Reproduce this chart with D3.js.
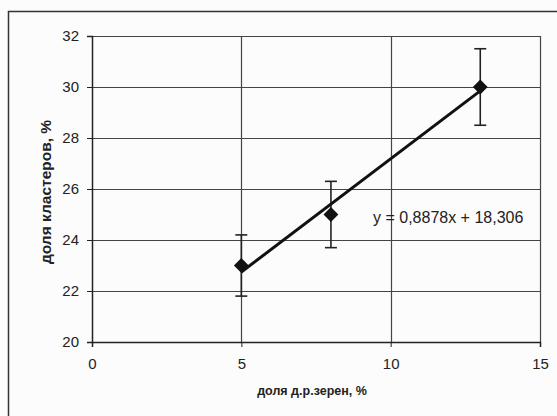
<!DOCTYPE html>
<html>
<head>
<meta charset="utf-8">
<script src="https://cdn.jsdelivr.net/npm/d3@7"></script>
<style>
  body { margin: 0; background: #fff; }
  text { font-family: "Liberation Sans", Arial, sans-serif; fill: #222; }
</style>
</head>
<body>
<script>
var xValues = [5, 8, 13];
var yValues = [23, 25, 30];
var yErrors = [1.2, 1.3, 1.5];
var xTicks = [0, 5, 10, 15];
var yTicks = [20, 22, 24, 26, 28, 30, 32];
var slope = 0.8878;
var intercept = 18.306;
var equationLabel = "y = 0,8878x + 18,306";
var xTitle = "доля д.р.зерен, %";
var yTitle = "доля кластеров, %";

var W = 557, H = 416;
var plotLeft = 92, plotRight = 540, plotTop = 36, plotBottom = 342;

var svg = d3.select("body").append("svg")
    .attr("width", W)
    .attr("height", H);

svg.append("rect")
  .attr("width", W).attr("height", H)
  .attr("fill", "#fcfcfc");

// outer chart frame (cut off at right/bottom)
svg.append("path")
  .attr("d", "M8.5," + (H + 2) + "V11.5H" + (W + 2))
  .attr("fill", "none")
  .attr("stroke", "#333")
  .attr("stroke-width", 1.5);

var x = d3.scaleLinear().domain([0, 15]).range([plotLeft, plotRight]);
var y = d3.scaleLinear().domain([20, 32]).range([plotBottom, plotTop]);

var data = xValues.map(function(d, i) {
  return {x: d, y: yValues[i], e: yErrors[i]};
});

// gridlines
svg.append("g").selectAll("line")
  .data(yTicks.slice(1))
  .enter().append("line")
  .attr("x1", plotLeft).attr("x2", plotRight)
  .attr("y1", function(d) { return Math.round(y(d)) + 0.5; })
  .attr("y2", function(d) { return Math.round(y(d)) + 0.5; })
  .attr("stroke", "#444")
  .attr("stroke-width", 1.2);

svg.append("g").selectAll("line")
  .data(xTicks.slice(1))
  .enter().append("line")
  .attr("y1", plotTop).attr("y2", plotBottom)
  .attr("x1", function(d) { return Math.round(x(d)) + 0.5; })
  .attr("x2", function(d) { return Math.round(x(d)) + 0.5; })
  .attr("stroke", "#444")
  .attr("stroke-width", 1.2);

// axes
var yAxis = svg.append("g")
  .attr("transform", "translate(" + plotLeft + ",0)")
  .call(d3.axisLeft(y).tickValues(yTicks).tickSize(5).tickPadding(8));

var xAxis = svg.append("g")
  .attr("transform", "translate(0," + plotBottom + ")")
  .call(d3.axisBottom(x).tickValues(xTicks).tickSize(5).tickPadding(11));

[xAxis, yAxis].forEach(function(a) {
  a.select(".domain").attr("stroke", "#222").attr("stroke-width", 1.5);
  a.selectAll(".tick line").attr("stroke", "#222");
  a.selectAll("text")
    .attr("fill", "#222")
    .style("font-size", "15px")
    .style("font-family", "'Liberation Sans', Arial, sans-serif");
});

// axis titles
svg.append("text")
  .attr("x", 312)
  .attr("y", 395)
  .attr("text-anchor", "middle")
  .style("font-size", "12.5px")
  .style("font-weight", "bold")
  .text(xTitle);

svg.append("text")
  .attr("transform", "translate(51,192) rotate(-90)")
  .attr("text-anchor", "middle")
  .style("font-size", "15.5px")
  .style("font-weight", "bold")
  .text(yTitle);

// error bars
var eb = svg.append("g").attr("stroke", "#222").attr("stroke-width", 1.6);
eb.selectAll(".v").data(data).enter().append("line")
  .attr("x1", function(d) { return x(d.x); })
  .attr("x2", function(d) { return x(d.x); })
  .attr("y1", function(d) { return y(d.y - d.e); })
  .attr("y2", function(d) { return y(d.y + d.e); });
eb.selectAll(".t").data(data).enter().append("line")
  .attr("x1", function(d) { return x(d.x) - 6; })
  .attr("x2", function(d) { return x(d.x) + 6; })
  .attr("y1", function(d) { return y(d.y + d.e); })
  .attr("y2", function(d) { return y(d.y + d.e); });
eb.selectAll(".b").data(data).enter().append("line")
  .attr("x1", function(d) { return x(d.x) - 6; })
  .attr("x2", function(d) { return x(d.x) + 6; })
  .attr("y1", function(d) { return y(d.y - d.e); })
  .attr("y2", function(d) { return y(d.y - d.e); });

// trend line
var x0 = d3.min(xValues), x1 = d3.max(xValues);
svg.append("line")
  .attr("x1", x(x0)).attr("y1", y(slope * x0 + intercept))
  .attr("x2", x(x1)).attr("y2", y(slope * x1 + intercept))
  .attr("stroke", "#111")
  .attr("stroke-width", 3);

// markers
svg.append("g").selectAll("path")
  .data(data)
  .enter().append("path")
  .attr("transform", function(d) { return "translate(" + x(d.x) + "," + y(d.y) + ")"; })
  .attr("d", d3.symbol().type(d3.symbolDiamond2).size(140))
  .attr("fill", "#111");

svg.append("text")
  .attr("x", 373)
  .attr("y", 223)
  .style("font-size", "16px")
  .text(equationLabel);
</script>
</body>
</html>
